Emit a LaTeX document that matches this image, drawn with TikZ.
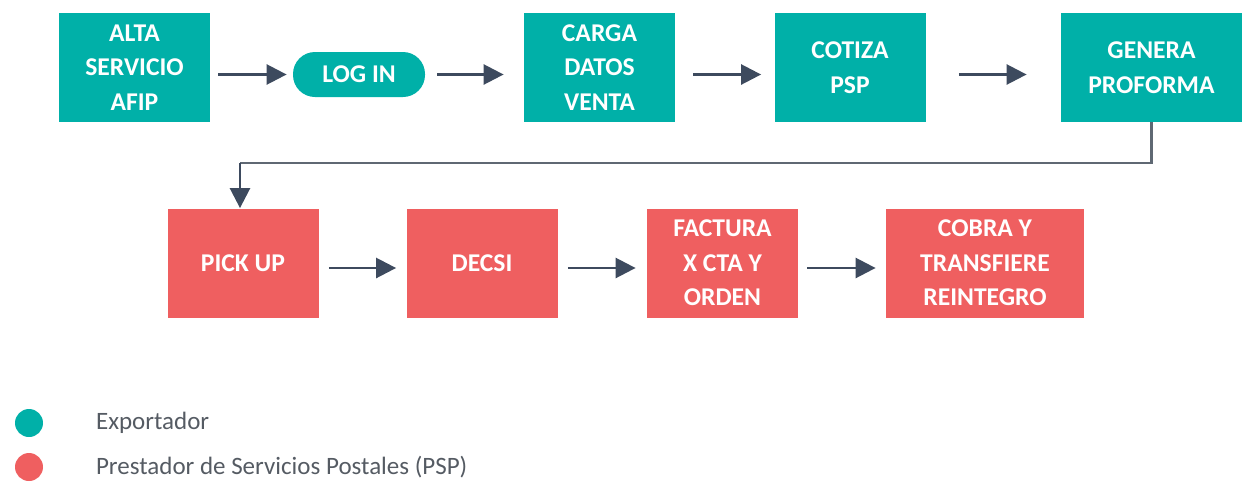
\documentclass[tikz,border=0pt]{standalone}
\usepackage{fontspec}
\setmainfont{Carlito}
\usetikzlibrary{arrows.meta, positioning}
\definecolor{expteal}{HTML}{00B0A8}
\definecolor{pspred}{HTML}{EF5F60}
\definecolor{arrowslate}{HTML}{3D4A5E}
\definecolor{linegrey}{HTML}{5F6873}
\definecolor{legendgrey}{HTML}{555B63}

\tikzset{
  stepbox/.style={fill=#1, text=white, font=\fontsize{12.8}{17.25}\selectfont\bfseries,
    align=center, minimum width=75.5pt, minimum height=54.5pt, inner sep=0pt},
  flowarrow/.style={-{Triangle[length=10pt, width=10pt]}, line width=1.3pt, arrowslate},
}

\begin{document}
\begin{tikzpicture}[x=0.5pt, y=-0.5pt]
  \useasboundingbox (0,0) rectangle (1244,483);
  % exportador
  \node[stepbox=expteal] (alta) at (134.5, 67.5) {ALTA\\SERVICIO\\AFIP};
  \node[stepbox=expteal, rounded corners=11pt, minimum width=66pt, minimum height=22.5pt]
    (login) at (359, 74.5) {LOG IN};
  \node[stepbox=expteal] (carga) at (599.5, 67.5) {CARGA\\DATOS\\VENTA};
  \node[stepbox=expteal] (cotiza) at (850, 67.5) {COTIZA\\PSP};
  \node[stepbox=expteal, minimum width=90.5pt] (genera) at (1151.5, 67.5) {GENERA\\PROFORMA};
  % psp
  \node[stepbox=pspred] (pickup) at (243, 263) {PICK UP};
  \node[stepbox=pspred] (decsi) at (482, 263) {DECSI};
  \node[stepbox=pspred] (factura) at (722.5, 263) {FACTURA\\X CTA Y\\ORDEN};
  \node[stepbox=pspred, minimum width=99pt] (cobra) at (985, 263) {COBRA Y\\TRANSFIERE\\REINTEGRO};

  \draw[flowarrow] ([xshift=4pt]alta.east |- login.west) -- ([xshift=-3pt]login.west);
  \draw[flowarrow] ([xshift=6pt]login.east) -- ([xshift=-10pt]carga.west |- login.east);
  \draw[flowarrow] ([xshift=9pt]carga.east |- login.east) -- ([xshift=-6.5pt]cotiza.west |- login.east);
  \draw[flowarrow] ([xshift=16.5pt]cotiza.east |- login.east) -- ([xshift=-17pt]genera.west |- login.east);
  \draw[line width=1.3pt, linegrey] (genera.south) |- (240,163)
    coordinate (turn);
  \draw[flowarrow] (turn) -- (turn |- pickup.north);
  \draw[flowarrow] ([xshift=5pt, yshift=-2.5pt]pickup.east) -- ([xshift=-5pt, yshift=-2.5pt]decsi.west);
  \draw[flowarrow] ([xshift=5pt, yshift=-2.5pt]decsi.east) -- ([xshift=-5.5pt, yshift=-2.5pt]factura.west);
  \draw[flowarrow] ([xshift=4.5pt, yshift=-2.5pt]factura.east) -- ([xshift=-5pt, yshift=-2.5pt]cobra.west);

  % legend
  \node[circle, fill=expteal, minimum size=14pt, inner sep=0pt] (dotexp) at (29, 423) {};
  \node[circle, fill=pspred, minimum size=14pt, inner sep=0pt] (dotpsp) at (29, 467) {};
  \node[anchor=west, text=legendgrey, font=\fontsize{12.5}{14}\selectfont] (labexp)
    at (89, 423) {Exportador};
  \node[anchor=west, text=legendgrey, font=\fontsize{12.5}{14}\selectfont] (labpsp)
    at (89, 467) {Prestador de Servicios Postales (PSP)};
\end{tikzpicture}
\end{document}
